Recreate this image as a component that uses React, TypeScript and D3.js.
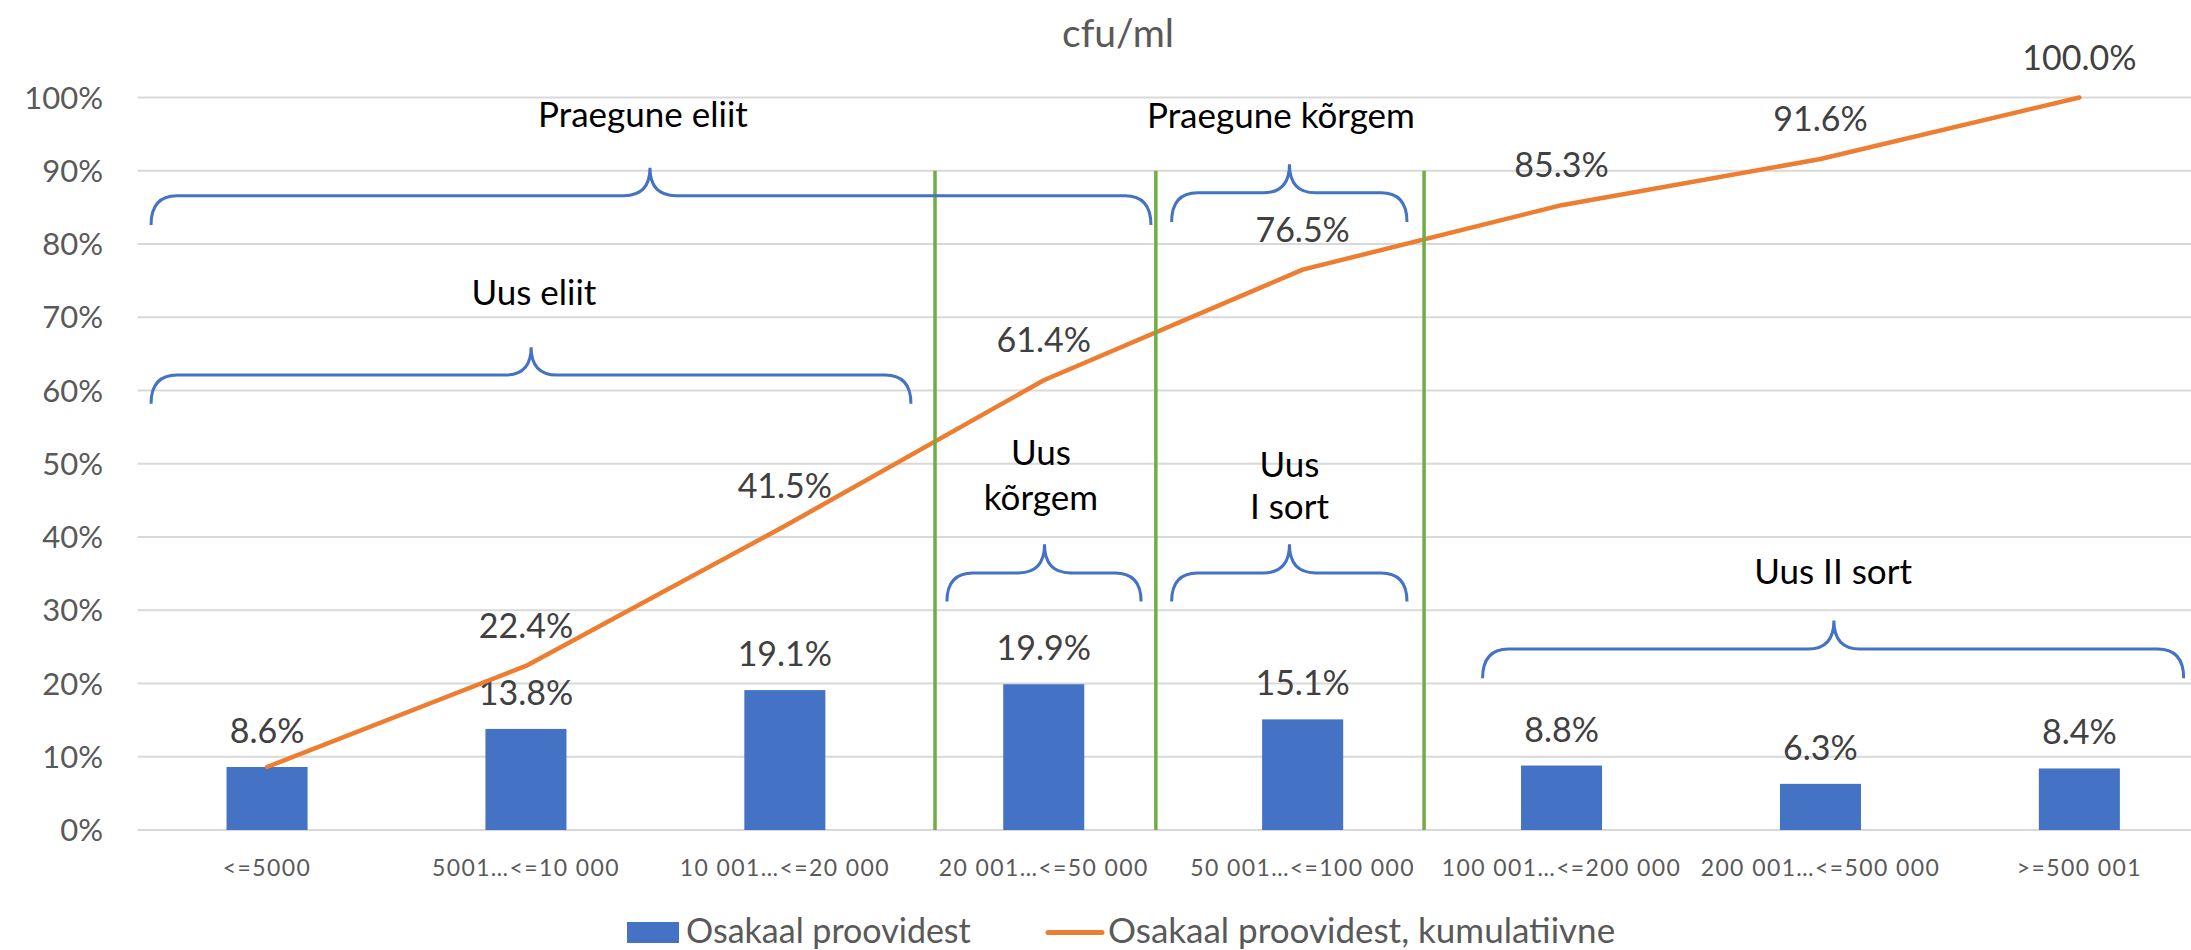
import React from "react";
import * as d3 from "d3";

const categories = [
  "<=5000",
  "5001…<=10 000",
  "10 001…<=20 000",
  "20 001…<=50 000",
  "50 001…<=100 000",
  "100 001…<=200 000",
  "200 001…<=500 000",
  ">=500 001",
];
const shareValues = [8.6, 13.8, 19.1, 19.9, 15.1, 8.8, 6.3, 8.4];
const cumulativeValues = [8.6, 22.4, 41.5, 61.4, 76.5, 85.3, 91.6, 100.0];
const yTicks = [0, 10, 20, 30, 40, 50, 60, 70, 80, 90, 100];
const seriesNames = ["Osakaal proovidest", "Osakaal proovidest, kumulatiivne"];
const title = "cfu/ml";

// annotations: positions in category-index units (0 = plot left edge) and percent
const braces = [
  { x0: 0.052, x1: 3.914, tip: 1.979, yTip: 90.4, yBar: 86.6, yEnd: 82.6 },
  { x0: 0.052, x1: 2.987, tip: 1.52, yTip: 65.9, yBar: 62.1, yEnd: 58.2 },
  { x0: 3.994, x1: 4.903, tip: 4.449, yTip: 90.9, yBar: 87.0, yEnd: 83.0 },
  { x0: 3.126, x1: 3.876, tip: 3.503, yTip: 39.0, yBar: 35.1, yEnd: 31.2 },
  { x0: 3.994, x1: 4.903, tip: 4.449, yTip: 39.0, yBar: 35.1, yEnd: 31.2 },
  { x0: 5.195, x1: 7.903, tip: 6.552, yTip: 28.6, yBar: 24.7, yEnd: 20.7 },
];
const annotationTexts = [
  { lines: ["Praegune eliit"], x: 1.952, y: [96.0] },
  { lines: ["Praegune kõrgem"], x: 4.416, y: [95.8] },
  { lines: ["Uus eliit"], x: 1.531, y: [71.7] },
  { lines: ["Uus", "kõrgem"], x: 3.489, y: [49.8, 43.7] },
  { lines: ["Uus", "I sort"], x: 4.449, y: [48.2, 42.5] },
  { lines: ["Uus II sort"], x: 6.549, y: [33.6] },
];
const dividers = [3.08, 3.933, 4.969];

const W = 2191;
const H = 950;
const plotLeft = 137.6;
const plotRight = 2208.8;
const yZero = 830;
const yTop = 97.5;

const FONT = "Lato, 'Open Sans', sans-serif";

function bracePath(
  b: { x0: number; x1: number; tip: number; yTip: number; yBar: number; yEnd: number },
  xi: d3.ScaleLinear<number, number>,
  y: d3.ScaleLinear<number, number>
) {
  const X0 = xi(b.x0);
  const X1 = xi(b.x1);
  const T = xi(b.tip);
  const YT = y(b.yTip);
  const YB = y(b.yBar);
  const YE = y(b.yEnd);
  const r = 26;
  const p = d3.path();
  p.moveTo(X0, YE);
  p.quadraticCurveTo(X0, YB, X0 + r, YB);
  p.lineTo(T - r, YB);
  p.quadraticCurveTo(T, YB, T, YT);
  p.quadraticCurveTo(T, YB, T + r, YB);
  p.lineTo(X1 - r, YB);
  p.quadraticCurveTo(X1, YB, X1, YE);
  return p.toString();
}

export default function App() {
  const x = d3
    .scalePoint<string>()
    .domain(categories)
    .range([plotLeft, plotRight])
    .padding(0.5);
  const step = x.step();
  const barW = step * 0.313;
  const xi = d3.scaleLinear().domain([0, categories.length]).range([plotLeft, plotRight]);
  const y = d3.scaleLinear().domain([0, 100]).range([yZero, yTop]);

  const line = d3
    .line<number>()
    .x((_, i) => x(categories[i]) as number)
    .y((d) => y(d));

  return (
    <div style={{ position: "fixed", left: 0, top: 0, width: W, height: H, background: "#fff" }}>
      <svg width={W} height={H} style={{ display: "block" }} fontFamily={FONT}>
        <rect width={W} height={H} fill="#fff" />
        {/* title */}
        <text x={1118} y={47} textAnchor="middle" fontSize={39} fill="#595959">
          {title}
        </text>
        {/* gridlines */}
        {yTicks.map((t) => (
          <line
            key={"g" + t}
            x1={plotLeft}
            x2={plotRight}
            y1={y(t)}
            y2={y(t)}
            stroke="#D9D9D9"
            strokeWidth={2}
          />
        ))}
        {/* y labels */}
        {yTicks.map((t) => (
          <text
            key={"yl" + t}
            x={103}
            y={y(t)}
            dy="0.36em"
            textAnchor="end"
            fontSize={31}
            fill="#595959"
          >
            {t + "%"}
          </text>
        ))}
        {/* x labels */}
        {categories.map((c) => (
          <text
            key={"xl" + c}
            x={x(c)}
            y={876}
            textAnchor="middle"
            fontSize={23}
            letterSpacing={1.4}
            fill="#595959"
          >
            {c}
          </text>
        ))}
        {/* bars */}
        {shareValues.map((v, i) => (
          <rect
            key={"b" + i}
            x={(x(categories[i]) as number) - barW / 2}
            y={y(v)}
            width={barW}
            height={y(0) - y(v)}
            fill="#4472C4"
          />
        ))}
        {/* bar labels */}
        {shareValues.map((v, i) => (
          <text
            key={"bl" + i}
            x={x(categories[i])}
            y={y(v) - 24}
            textAnchor="middle"
            fontSize={34}
            fill="#404040"
          >
            {v.toFixed(1) + "%"}
          </text>
        ))}
        {/* cumulative line */}
        <path
          d={line(cumulativeValues) || ""}
          fill="none"
          stroke="#ED7D31"
          strokeWidth={4.5}
          strokeLinejoin="round"
          strokeLinecap="round"
        />
        {cumulativeValues.map((v, i) =>
          i === 0 ? null : (
            <text
              key={"cl" + i}
              x={x(categories[i])}
              y={y(v) - 28}
              textAnchor="middle"
              fontSize={34}
              fill="#404040"
            >
              {v.toFixed(1) + "%"}
            </text>
          )
        )}
        {/* green dividers */}
        {dividers.map((d, i) => (
          <line
            key={"d" + i}
            x1={xi(d)}
            x2={xi(d)}
            y1={y(90)}
            y2={y(0)}
            stroke="#70AD47"
            strokeWidth={3.5}
          />
        ))}
        {/* braces */}
        {braces.map((b, i) => (
          <path key={"br" + i} d={bracePath(b, xi, y)} fill="none" stroke="#4472C4" strokeWidth={3} />
        ))}
        {/* annotation texts */}
        {annotationTexts.map((a, i) =>
          a.lines.map((l, j) => (
            <text
              key={"at" + i + "_" + j}
              x={xi(a.x)}
              y={y(a.y[j])}
              textAnchor="middle"
              fontSize={35}
              fill="#000"
            >
              {l}
            </text>
          ))
        )}
        {/* legend */}
        <rect x={627} y={922} width={52} height={21} fill="#4472C4" />
        <text x={686} y={943} fontSize={34} fill="#595959">
          {seriesNames[0]}
        </text>
        <line x1={1048} x2={1102} y1={932.5} y2={932.5} stroke="#ED7D31" strokeWidth={5} strokeLinecap="round" />
        <text x={1108} y={943} fontSize={35} fill="#595959">
          {seriesNames[1]}
        </text>
      </svg>
    </div>
  );
}
